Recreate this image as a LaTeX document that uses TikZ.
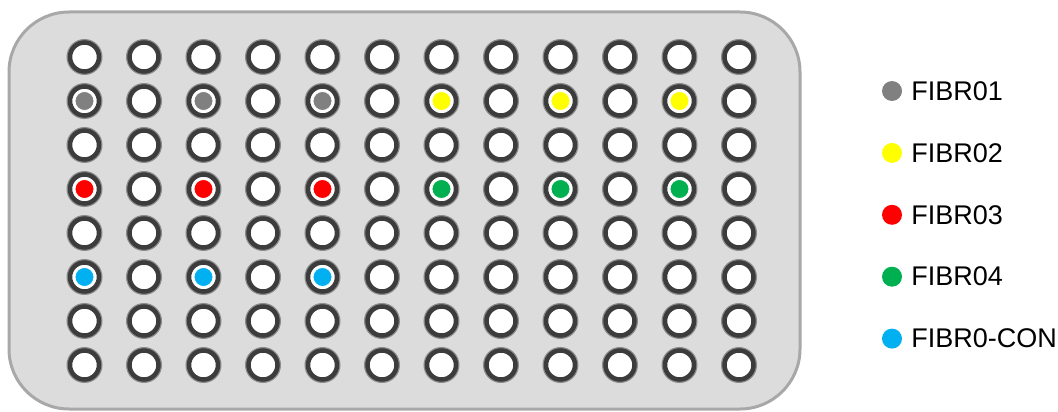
\documentclass[tikz,border=0pt]{standalone}
\usepackage{fontspec}
\setmainfont{Liberation Sans}
\usetikzlibrary{positioning}

\definecolor{plategray}{HTML}{DCDCDC}
\definecolor{plateedge}{HTML}{A8A8A8}
\definecolor{wellring}{HTML}{3C3C3C}
\definecolor{wellhalo}{HTML}{8C8C8C}
\definecolor{fibrgray}{HTML}{808080}
\definecolor{fibryellow}{HTML}{FFFF00}
\definecolor{fibrred}{HTML}{FF0000}
\definecolor{fibrgreen}{HTML}{00B050}
\definecolor{fibrblue}{HTML}{00B0F0}

\begin{document}
\begin{tikzpicture}[
    x=1pt, y=-1pt,
    node distance=41.5pt,
    plate/.style={
      draw=plateedge,
      fill=plategray,
      line width=3pt,
      rounded corners=60pt
    },
    well/.style={
      circle,
      minimum size=29pt,
      inner sep=0pt,
      fill=white,
      draw=wellring,
      line width=4.5pt,
      preaction={draw=wellhalo, line width=7pt}
    },
    sample/.style={
      circle,
      minimum size=19pt,
      inner sep=0pt,
      draw=white,
      line width=0.8pt
    },
    legend dot/.style={
      circle,
      minimum size=20pt,
      inner sep=0pt
    },
    legend label/.style={
      inner sep=0pt,
      anchor=west,
      font=\fontsize{27}{30}\selectfont
    }
  ]

    \useasboundingbox (0,0) rectangle (1058,412);

    % plate body
    \draw[plate] (9,12) rectangle (800,409);

    % 8 x 12 wells
    \foreach \c in {1,...,12}
      \foreach \r in {1,...,8}
        \node[well] (w\r-\c) at ({84.5+59.5*(\c-1)}, {57+44*(\r-1)}) {};

    % filled wells
    \foreach \r/\c/\col in {2/1/fibrgray, 2/3/fibrgray, 2/5/fibrgray,
                            2/7/fibryellow, 2/9/fibryellow, 2/11/fibryellow,
                            4/1/fibrred, 4/3/fibrred, 4/5/fibrred,
                            4/7/fibrgreen, 4/9/fibrgreen, 4/11/fibrgreen,
                            6/1/fibrblue, 6/3/fibrblue, 6/5/fibrblue}
      \node[sample, fill=\col] (s\r-\c) at (w\r-\c) {};

    % legend
    \node[legend dot, fill=fibrgray] (dot1) at (892,91) {};
    \node[legend dot, fill=fibryellow, below=of dot1] (dot2) {};
    \node[legend dot, fill=fibrred, below=of dot2] (dot3) {};
    \node[legend dot, fill=fibrgreen, below=of dot3] (dot4) {};
    \node[legend dot, fill=fibrblue, below=of dot4] (dot5) {};

    \node[legend label, right=9pt of dot1] (lab1) {FIBR01};
    \node[legend label, right=9pt of dot2] (lab2) {FIBR02};
    \node[legend label, right=9pt of dot3] (lab3) {FIBR03};
    \node[legend label, right=9pt of dot4] (lab4) {FIBR04};
    \node[legend label, right=9pt of dot5] (lab5) {FIBR0-CON};

  \end{tikzpicture}
\end{document}
